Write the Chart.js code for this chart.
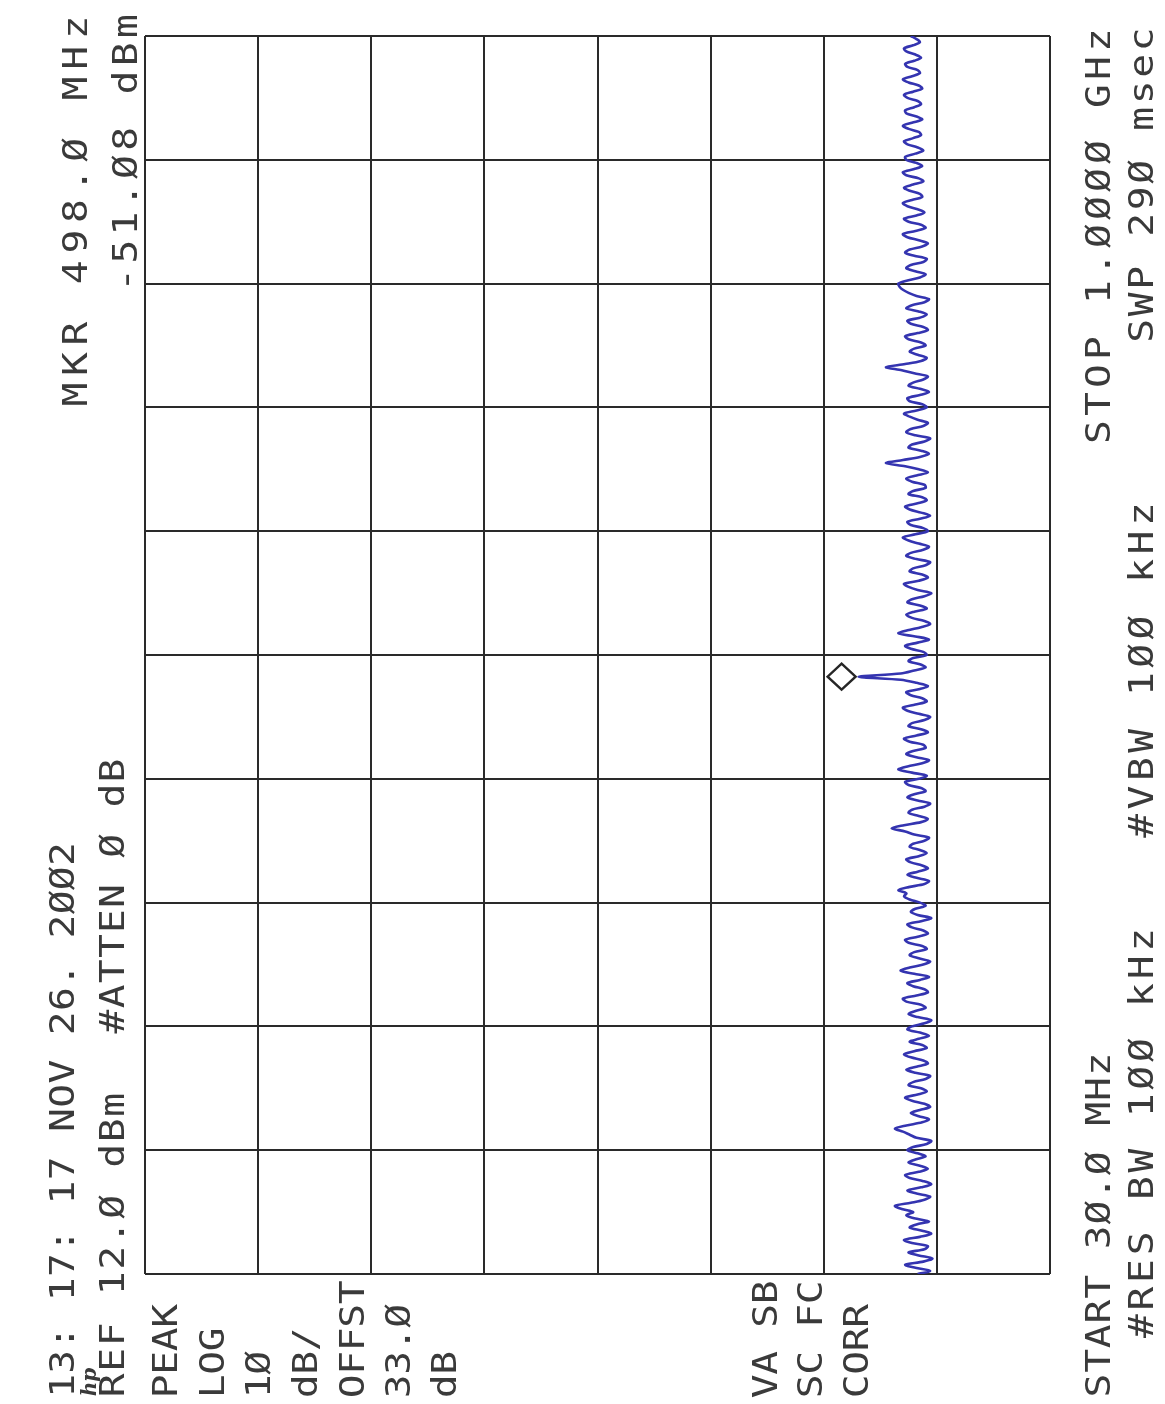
<!DOCTYPE html>
<html>
<head>
<meta charset="utf-8">
<script src="https://cdn.jsdelivr.net/npm/chart.js@4.4.1/dist/chart.umd.min.js"></script>
<style>
  html, body { margin: 0; padding: 0; background: #fff; overflow: hidden; }
  canvas { display: block; }
</style>
</head>
<body>
<canvas id="sa" width="1165" height="1404"></canvas>
<script>
// --- analyzer settings ---
const startMHz = 30.0;
const stopMHz = 1000.0;
const refLevel = 12.0;        // dBm, top of screen
const dbPerDiv = 10;
const levelTicks = [12, 2, -8, -18, -28, -38, -48, -58, -68];
const freqTicks = [30, 127, 224, 321, 418, 515, 612, 709, 806, 903, 1000];
const markerFreq = [498.0];
const markerLevel = [-51.08];

// 401-point trace, dBm, from START to STOP
const traceDbm = [
  -56.3,-57.4,-56.1,-55.2,-56.8,-57.6,-56.4,-55.5,-56.9,-57.2,
  -55.8,-55.1,-56.5,-57.5,-56.7,-55.6,-56.2,-57.3,-56.0,-55.3,
  -55.9,-54.9,-54.3,-55.7,-56.9,-57.4,-56.2,-55.4,-56.6,-57.5,
  -56.8,-55.6,-55.2,-56.4,-57.2,-56.5,-55.5,-56.1,-57.0,-56.3,
  -55.4,-55.9,-57.1,-57.5,-56.2,-55.6,-55.0,-54.3,-55.3,-56.7,
  -57.3,-56.4,-55.7,-56.5,-57.4,-56.9,-55.8,-55.2,-56.3,-57.1,
  -56.6,-55.5,-55.9,-57.0,-57.4,-56.1,-55.3,-56.2,-57.2,-56.8,
  -55.7,-55.1,-56.0,-57.1,-56.7,-55.6,-56.4,-57.3,-56.5,-55.4,
  -55.8,-56.9,-57.5,-56.3,-55.5,-56.1,-57.0,-56.6,-55.3,-55.0,
  -56.2,-57.2,-56.9,-55.9,-55.4,-56.5,-57.3,-56.0,-54.8,-55.6,
  -56.8,-57.4,-56.4,-55.6,-56.0,-57.1,-56.7,-55.5,-55.2,-56.3,
  -57.2,-56.8,-55.8,-55.4,-56.6,-57.5,-56.3,-55.7,-56.1,-57.0,
  -56.5,-55.6,-55.1,-55.3,-54.6,-55.5,-56.9,-57.3,-56.2,-55.4,
  -56.3,-57.2,-56.7,-55.7,-55.3,-56.4,-57.1,-56.5,-55.6,-55.9,
  -56.9,-57.3,-56.0,-55.2,-54.0,-55.1,-56.6,-57.2,-56.4,-55.5,
  -55.8,-56.9,-57.4,-56.3,-55.4,-56.0,-57.0,-56.6,-55.5,-55.2,
  -56.4,-57.1,-55.8,-54.6,-55.4,-56.7,-57.3,-56.2,-55.3,-55.9,
  -57.0,-56.8,-55.6,-55.1,-56.2,-57.2,-56.6,-55.5,-55.8,-56.9,
  -57.4,-56.4,-55.4,-55.0,-56.1,-57.1,-56.7,-55.7,-55.3,-56.5,
  -57.2,-56.2,-54.8,-51.08,-54.8,-56.0,-57.0,-56.5,-55.5,-55.9,
  -57.1,-56.8,-55.7,-55.2,-56.3,-57.3,-56.1,-54.6,-55.4,-56.6,
  -57.4,-56.9,-55.8,-55.3,-56.0,-57.1,-56.5,-55.4,-55.8,-56.9,
  -57.5,-56.3,-55.5,-55.1,-56.4,-57.2,-56.7,-55.6,-55.9,-57.0,
  -57.4,-56.2,-55.3,-55.7,-56.8,-57.3,-56.4,-55.5,-55.0,-56.1,
  -57.2,-56.8,-55.7,-55.4,-56.5,-57.4,-56.6,-55.6,-55.2,-56.3,
  -57.1,-56.7,-55.5,-55.9,-57.0,-56.9,-55.8,-55.3,-56.2,-57.2,
  -56.4,-55.2,-53.5,-55.0,-56.5,-57.3,-56.6,-55.5,-55.8,-56.9,
  -57.4,-56.1,-55.3,-55.7,-56.8,-57.2,-56.3,-55.6,-55.1,-56.2,
  -57.1,-56.7,-55.6,-55.4,-56.5,-57.3,-56.5,-55.5,-55.9,-56.8,
  -57.2,-56.0,-54.9,-53.5,-55.2,-56.6,-57.1,-56.3,-55.6,-56.0,
  -57.0,-56.6,-55.5,-55.2,-56.3,-57.2,-56.8,-55.7,-55.4,-56.5,
  -57.1,-56.4,-55.3,-55.8,-56.9,-57.3,-56.2,-55.5,-55.0,-54.7,
  -54.6,-55.4,-56.5,-57.0,-56.1,-55.3,-55.7,-56.8,-57.1,-56.0,
  -55.2,-55.6,-56.7,-57.2,-56.4,-55.4,-55.0,-56.1,-57.0,-56.6,
  -55.5,-55.1,-56.2,-56.9,-56.3,-55.4,-55.0,-55.8,-56.7,-56.5,
  -55.6,-55.1,-55.9,-56.8,-56.4,-55.3,-55.0,-56.0,-56.7,-56.2,
  -55.3,-55.2,-56.1,-56.8,-56.3,-55.4,-55.1,-55.9,-56.6,-56.4,
  -55.5,-55.0,-55.8,-56.7,-56.2,-55.3,-55.2,-56.0,-56.6,-56.3,
  -55.4,-55.1,-55.9,-56.7,-56.4,-55.5,-55.0,-55.8,-56.5,-56.3,
  -55.4,-55.2,-56.0,-56.6,-56.1,-55.3,-55.1,-55.9,-56.5,-56.2,
  -55.7
];

// sweep points (x = level, y = frequency since the screen is turned on its side)
const step = (stopMHz - startMHz) / (traceDbm.length - 1);
const tracePts = traceDbm.map((v, i) => ({ x: v, y: startMHz + i * step }));

// --- text on the screen: [text, centre x, bottom y, top y] ---
const screenText = [
  ['13: 17: 17 NOV 26. 2ØØ2', 62, 1398, 842],
  ['REF 12.Ø dBm', 112, 1398, 1092],
  ['#ATTEN Ø dB', 112, 1034, 758],
  ['MKR 498.Ø MHz', 75, 410, 12],
  ['-51.Ø8 dBm', 125, 294, 12],
  ['START 3Ø.Ø MHz', 1098, 1398, 1052],
  ['#RES BW 1ØØ kHz', 1141, 1340, 926],
  ['#VBW 1ØØ kHz', 1141, 840, 500],
  ['STOP 1.ØØØØ GHz', 1098, 446, 26],
  ['SWP 29Ø msec', 1141, 344, 26]
];
const sideText = [
  ['PEAK', 165], ['LOG', 212], ['1Ø', 258], ['dB/', 305], ['OFFST', 352], ['33.Ø', 398], ['dB', 444],
  ['VA SB', 765], ['SC FC', 810], ['CORR', 856]
];

function drawRotated(ctx, text, x, y0, y1) {
  const pitch = (y0 - y1) / text.length;
  for (let i = 0; i < text.length; i++) {
    const ch = text[i];
    if (ch === ' ') continue;
    ctx.save();
    ctx.translate(x, y0 - (i + 0.5) * pitch);
    ctx.rotate(-Math.PI / 2);
    ctx.scale(1.2, 1);
    ctx.fillText(ch, 0, 12);
    ctx.restore();
  }
}

const screenPlugin = {
  id: 'screen',
  beforeDraw(chart) {
    const ctx = chart.ctx;
    ctx.save();
    ctx.fillStyle = '#fff';
    ctx.fillRect(0, 0, chart.width, chart.height);
    ctx.restore();
  },
  afterDatasetsDraw(chart) {
    const ctx = chart.ctx;
    const xs = chart.scales.x, ys = chart.scales.y;

    // marker diamond beside the peak
    const px = xs.getPixelForValue(markerLevel[0]);
    const py = ys.getPixelForValue(markerFreq[0]);
    ctx.save();
    ctx.strokeStyle = '#262626';
    ctx.lineWidth = 2.4;
    ctx.beginPath();
    ctx.moveTo(px - 3, py);
    ctx.lineTo(px - 17, py - 13);
    ctx.lineTo(px - 31, py);
    ctx.lineTo(px - 17, py + 13);
    ctx.closePath();
    ctx.stroke();
    ctx.restore();

    // annotation text
    ctx.save();
    ctx.fillStyle = '#3a3a3a';
    ctx.font = '33px "DejaVu Sans Mono"';
    ctx.textAlign = 'center';
    ctx.textBaseline = 'alphabetic';
    screenText.forEach(t => drawRotated(ctx, t[0], t[1], t[2], t[3]));
    sideText.forEach(t => drawRotated(ctx, t[0], t[1], 1398, 1398 - t[0].length * 23.5));

    // hp logo
    ctx.translate(88, 1382);
    ctx.rotate(-Math.PI / 2);
    ctx.font = 'italic bold 20px "DejaVu Serif"';
    ctx.fillText('hp', 0, 8);
    ctx.restore();
  }
};

const gridStyle = { color: '#2a2a2a', lineWidth: 2, drawTicks: false };

new Chart(document.getElementById('sa'), {
  type: 'scatter',
  data: {
    datasets: [{
      data: tracePts,
      showLine: true,
      borderColor: '#3434b0',
      borderWidth: 2.6,
      pointRadius: 0,
      tension: 0.3
    }]
  },
  options: {
    responsive: false,
    animation: false,
    devicePixelRatio: 1,
    layout: { padding: { left: 145, right: 115, top: 36, bottom: 130 } },
    plugins: { legend: { display: false }, tooltip: { enabled: false } },
    scales: {
      x: {
        type: 'linear',
        reverse: true,
        min: refLevel - 8 * dbPerDiv,
        max: refLevel,
        afterBuildTicks: s => { s.ticks = levelTicks.map(v => ({ value: v })); },
        ticks: { display: false },
        grid: gridStyle,
        border: { display: false }
      },
      y: {
        type: 'linear',
        min: startMHz,
        max: stopMHz,
        afterBuildTicks: s => { s.ticks = freqTicks.map(v => ({ value: v })); },
        ticks: { display: false },
        grid: gridStyle,
        border: { display: false }
      }
    }
  },
  plugins: [screenPlugin]
});
</script>
</body>
</html>
